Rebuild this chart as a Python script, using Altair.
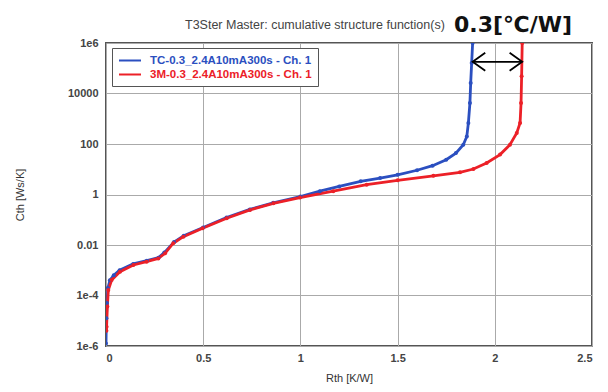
import altair as alt
import pandas as pd

# ---- data ----
series_names = ["TC-0.3_2.4A10mA300s - Ch. 1", "3M-0.3_2.4A10mA300s - Ch. 1"]
series_colors = ["#2b4fc0", "#ec2027"]

tc_rth = [0.0, 0.002, 0.005, 0.01, 0.02, 0.04, 0.07, 0.14, 0.21, 0.27, 0.30, 0.35,
          0.40, 0.50, 0.62, 0.74, 0.86, 1.0, 1.10, 1.20, 1.31, 1.41, 1.50, 1.60,
          1.68, 1.75, 1.80, 1.838, 1.856, 1.864, 1.872, 1.876, 1.881, 1.886]
tc_cth_log10 = [-5.9, -4.9, -4.3, -3.7, -3.4, -3.2, -3.0, -2.75, -2.62, -2.5, -2.3, -1.88,
                -1.63, -1.31, -0.91, -0.59, -0.33, -0.08, 0.13, 0.32, 0.52, 0.65, 0.78, 0.96,
                1.14, 1.38, 1.64, 1.97, 2.30, 2.83, 3.62, 4.42, 5.21, 6.0]

m3_rth = [0.002, 0.003, 0.007, 0.012, 0.029, 0.072, 0.141, 0.209, 0.269, 0.304, 0.346,
          0.398, 0.497, 0.621, 0.741, 0.861, 0.998, 1.169, 1.341, 1.50, 1.684, 1.821,
          1.890, 1.958, 2.027, 2.078, 2.113, 2.130, 2.135, 2.138, 2.141]
m3_cth_log10 = [-5.4, -5.24, -4.44, -3.78, -3.39, -3.06, -2.79, -2.66, -2.53, -2.33, -1.93,
                -1.67, -1.34, -0.94, -0.61, -0.35, -0.12, 0.13, 0.39, 0.56, 0.74, 0.88,
                1.01, 1.25, 1.58, 1.97, 2.44, 2.83, 3.62, 4.68, 6.0]

arrow_rth = [1.886, 2.141]
arrow_cth = 1.8e5
annotation = "0.3[℃/W]"
title_text = "T3Ster Master: cumulative structure function(s)"

x_ticks = [0, 0.5, 1, 1.5, 2, 2.5]
y_ticks = [1e-6, 1e-4, 1e-2, 1, 1e2, 1e4, 1e6]

# ---- tables ----
rows = []
for i, (r, c) in enumerate(zip(tc_rth, tc_cth_log10)):
    rows.append({"Rth": r, "Cth": 10 ** c, "series": series_names[0], "idx": i})
for i, (r, c) in enumerate(zip(m3_rth, m3_cth_log10)):
    rows.append({"Rth": r, "Cth": 10 ** c, "series": series_names[1], "idx": i})
df = pd.DataFrame(rows)

arrow_df = pd.DataFrame({"Rth": arrow_rth, "Cth": [arrow_cth, arrow_cth]})
arrow_l = pd.DataFrame({"Rth": [arrow_rth[0]], "Cth": [arrow_cth]})
arrow_r = pd.DataFrame({"Rth": [arrow_rth[1]], "Cth": [arrow_cth]})

font = "Liberation Sans"
xscale = alt.Scale(domain=[0, 2.5], nice=False, zero=False)
yscale = alt.Scale(type="log", domain=[1e-6, 1e6], nice=False)
cscale = alt.Scale(domain=series_names, range=series_colors)

x_enc = alt.X("Rth:Q", scale=xscale,
              axis=alt.Axis(values=x_ticks, format="~g", title="Rth  [K/W]",
                            grid=True, labelPadding=6, titlePadding=9, ticks=False))
y_enc = alt.Y("Cth:Q", scale=yscale,
              axis=alt.Axis(values=y_ticks, title="Cth  [Ws/K]", grid=True, ticks=False,
                            labelExpr="datum.value < 1e-5 ? '1e-6' : datum.value < 1e-3 ? '1e-4' : datum.value > 1e5 ? '1e6' : format(datum.value, '~g')",
                            labelPadding=8, titlePadding=42))

label_color_expr = ("datum.label == '" + series_names[0] + "' ? '" + series_colors[0]
                    + "' : '" + series_colors[1] + "'")

lines = alt.Chart(df).mark_line(strokeWidth=2.8, clip=True).encode(
    x=x_enc, y=y_enc,
    color=alt.Color("series:N", scale=cscale,
                    legend=alt.Legend(title=None, orient="none", legendX=6, legendY=5,
                                      symbolType="M -1 0 L 3 0", symbolSize=121,
                                      symbolStrokeWidth=2, labelFontSize=11.5,
                                      labelFontWeight="bold", labelLimit=400,
                                      labelFont=font, labelColor={"expr": label_color_expr},
                                      strokeColor="#555", fillColor="white",
                                      padding=6, rowPadding=2, labelOffset=19)),
    order="idx:Q",
)

points = alt.Chart(df).mark_point(filled=True, size=16, opacity=1, clip=True).encode(
    x="Rth:Q", y="Cth:Q",
    color=alt.Color("series:N", scale=cscale, legend=None),
)

arrow_line = alt.Chart(arrow_df).mark_line(color="black", strokeWidth=1.8).encode(
    x="Rth:Q", y="Cth:Q")
head_l = alt.Chart(arrow_l).mark_point(shape="M 1.4 -1 L 0 0 L 1.4 1", filled=False,
                                       color="black", strokeWidth=1.8, size=324,
                                       opacity=1).encode(x="Rth:Q", y="Cth:Q")
head_r = alt.Chart(arrow_r).mark_point(shape="M -1.4 -1 L 0 0 L -1.4 1", filled=False,
                                       color="black", strokeWidth=1.8, size=324,
                                       opacity=1).encode(x="Rth:Q", y="Cth:Q")

annot = alt.Chart(pd.DataFrame({"t": [annotation]})).mark_text(
    align="left", baseline="alphabetic", fontSize=22, fontWeight="bold",
    font="DejaVu Sans", color="#111").encode(
    text="t:N", x=alt.value(348), y=alt.value(-11))

title = alt.Chart(pd.DataFrame({"t": [title_text]})).mark_text(
    align="left", baseline="alphabetic", fontSize=12.5, font=font, color="#444").encode(
    text="t:N", x=alt.value(79), y=alt.value(-14))

chart = alt.layer(lines, points, arrow_line, head_l, head_r, title, annot).properties(
    width=486, height=303,
    autosize=alt.AutoSizeParams(type="none"),
    padding={"left": 98, "top": 35, "right": 8, "bottom": 40},
).configure_view(stroke="#555", strokeWidth=2).configure_axis(
    domain=False, gridColor="#aaa", gridWidth=1, labelFont=font, labelFontSize=11,
    labelFontWeight="bold", labelColor="#444", titleFont=font, titleFontSize=11,
    titleFontWeight="normal", titleColor="#333",
)

chart.save("out.html", embed_options={"renderer": "svg", "actions": False})
